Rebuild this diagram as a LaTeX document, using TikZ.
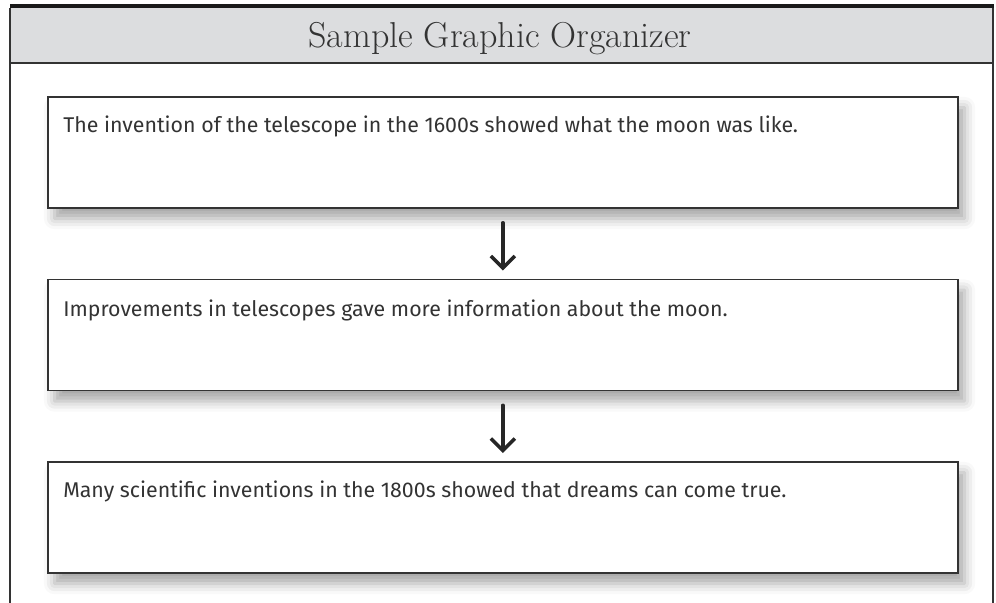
\documentclass[tikz,border=0pt]{standalone}
\usepackage{fontspec}
\usepackage{tikz}
\usetikzlibrary{positioning,arrows.meta,shadows.blur}
\newfontfamily\handfont{Fira Sans}

\definecolor{headgrey}{HTML}{DCDDDF}
\definecolor{inkgrey}{HTML}{333333}

\begin{document}
\begin{tikzpicture}[x=0.75pt,y=-0.75pt]
		\tikzset{box/.style = {draw=inkgrey, line width=1.3pt, fill=white, anchor=north west,
				minimum width=682.5pt, minimum height=83.25pt, inner sep=0pt,
				blur shadow={shadow xshift=5pt, shadow yshift=-8pt, shadow blur radius=8pt, shadow opacity=35}}}
		\tikzset{boxtext/.style = {anchor=base west, inner sep=0pt, text=inkgrey, font=\handfont\fontsize{16}{19}\selectfont}}
		\tikzset{flow/.style = {-{Straight Barb[length=9pt,width=18pt,line width=2.6pt]}, line width=2.6pt,
				draw=black!85, line cap=round, shorten <=10.5pt, shorten >=6pt}}
		\useasboundingbox (0,0) rectangle (996,603);

		% frame and header
		\fill[headgrey] (10,8) rectangle (993,63);
		\fill[black!90] (9.5,4) rectangle (993.5,8);
		\draw[inkgrey, line width=0.8pt] (10,8) -- (10,603);
		\draw[inkgrey, line width=0.8pt] (993,8) -- (993,603);
		\draw[inkgrey, line width=1.4pt] (10,63) -- (993,63);
		\node[anchor=base, text=inkgrey, font=\fontsize{27}{32}\selectfont] (title) at (500,47.5) {Sample Graphic Organizer};

		% boxes
		\node[box] (b1) at (47,96) {};
		\node[box] (b2) at (47,278.5) {};
		\node[box] (b3) at (47,461) {};

		% texts
		\node[boxtext] (t1) at (63,132) {The invention of the telescope in the 1600s showed what the moon was like.};
		\node[boxtext] (t2) at (63,316) {Improvements in telescopes gave more information about the moon.};
		\node[boxtext] (t3) at (63,497) {Many scientific inventions in the 1800s showed that dreams can come true.};

		% arrows
		\draw[flow] (b1) -- (b2);
		\draw[flow] (b2) -- (b3);
	\end{tikzpicture}
\end{document}
